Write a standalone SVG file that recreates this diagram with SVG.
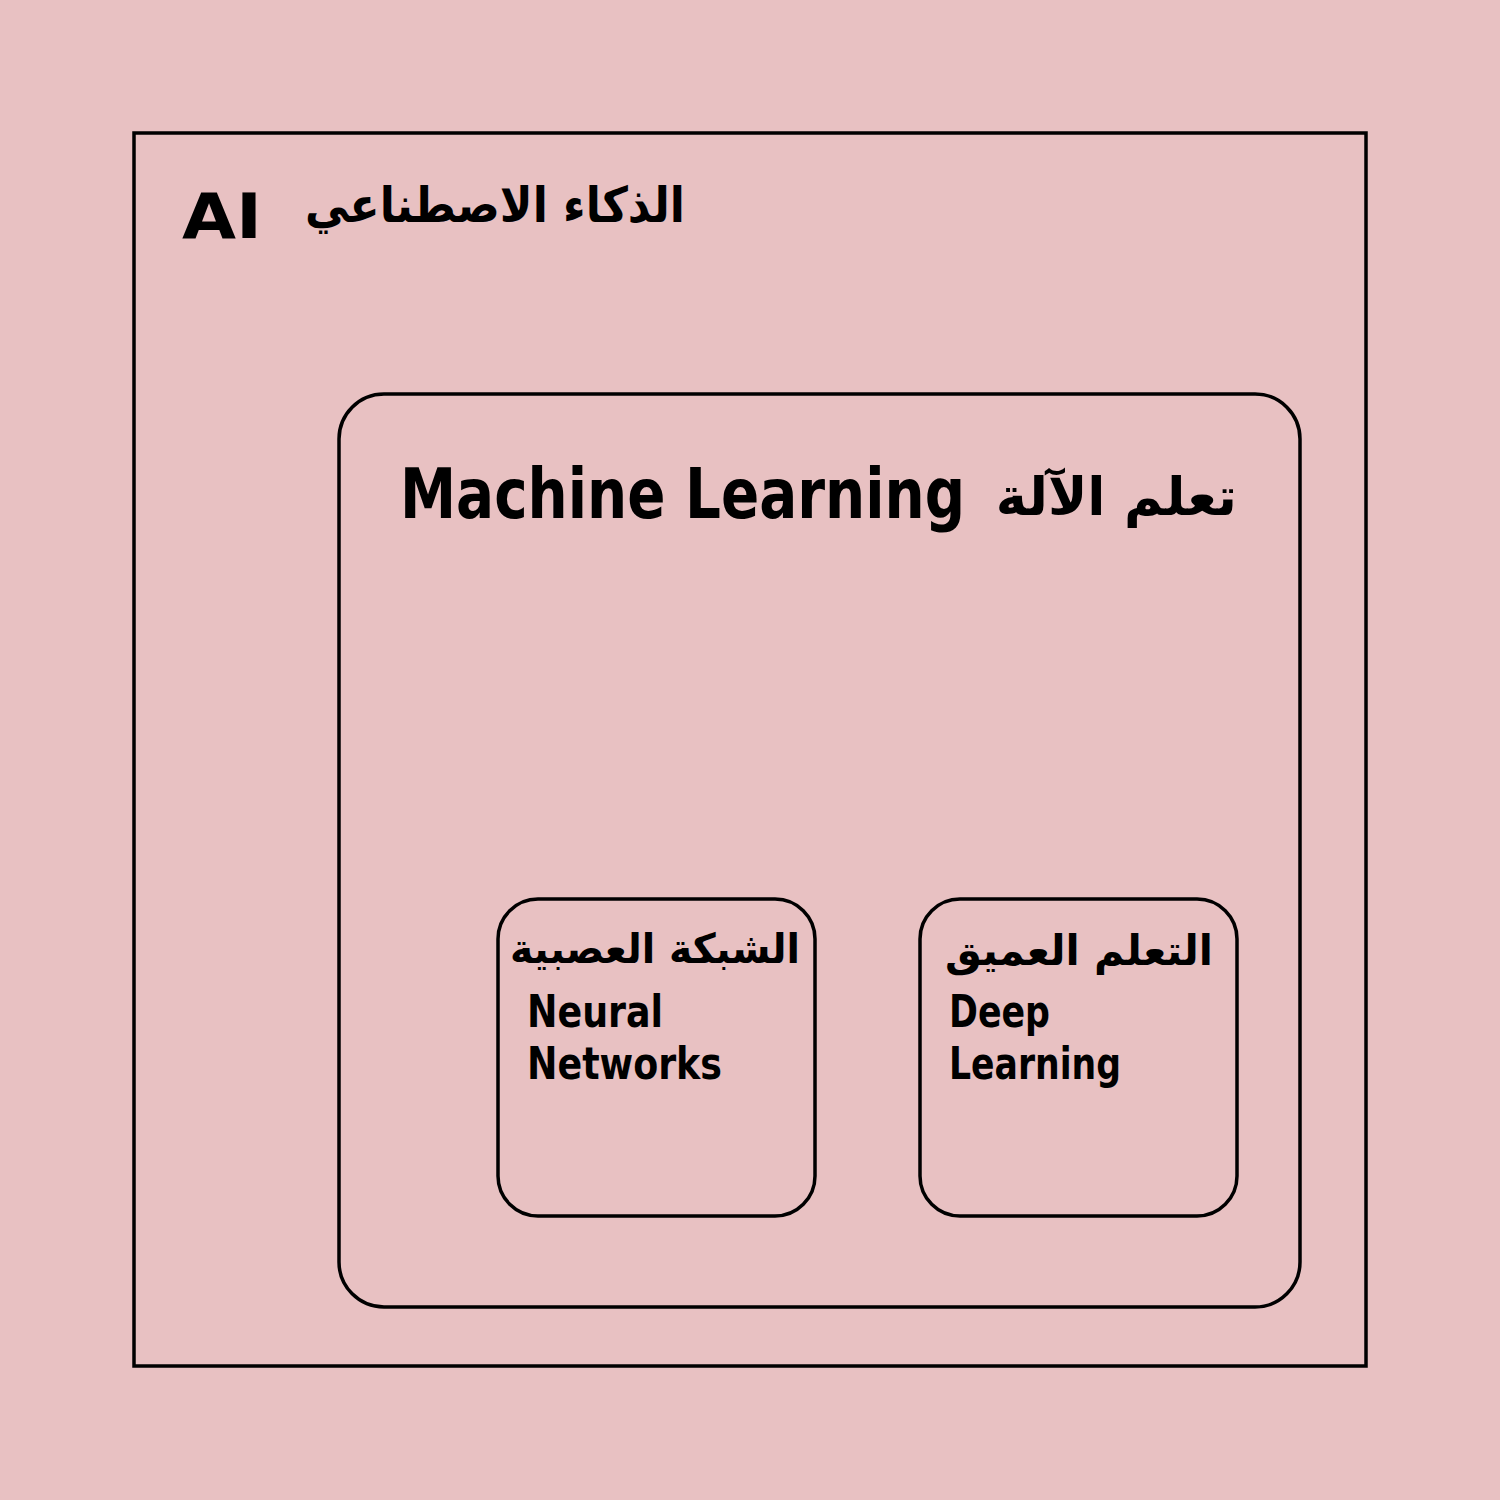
<svg xmlns="http://www.w3.org/2000/svg" width="1500" height="1500" viewBox="0 0 1500 1500">
<style>
.box{fill:none;stroke:#000;stroke-width:3.5}
.lat{font-family:"DejaVu Sans","Liberation Sans",sans-serif;font-weight:bold;fill:#000}
.ar{font-family:"DejaVu Sans","Noto Sans",sans-serif;font-weight:bold;fill:#000}
</style>
<rect x="0" y="0" width="1500" height="1500" fill="#E8C1C2"/>
<g id="ai">
<rect class="box" x="134" y="133" width="1232" height="1233"/>
<text class="lat" x="182" y="238" font-size="62" textLength="80" lengthAdjust="spacingAndGlyphs">AI</text>
<text class="ar" x="305" y="222" font-size="49" textLength="380" lengthAdjust="spacingAndGlyphs">الذكاء الاصطناعي</text>
</g>
<g id="ml">
<rect class="box" x="339" y="394" width="961" height="913" rx="45"/>
<text class="lat" x="400" y="518" font-size="70" textLength="565" lengthAdjust="spacingAndGlyphs">Machine Learning</text>
<text class="ar" x="1237" y="515" font-size="53" text-anchor="end">تعلم الآلة</text>
</g>
<g id="nn">
<rect class="box" x="498" y="899" width="317" height="317" rx="40"/>
<text class="ar" x="510" y="963" font-size="41" textLength="290" lengthAdjust="spacingAndGlyphs">الشبكة العصبية</text>
<text class="lat" x="527" y="1027" font-size="44" textLength="136" lengthAdjust="spacingAndGlyphs">Neural</text>
<text class="lat" x="527" y="1079" font-size="44" textLength="195" lengthAdjust="spacingAndGlyphs">Networks</text>
</g>
<g id="dl">
<rect class="box" x="920" y="899" width="317" height="317" rx="40"/>
<text class="ar" x="945" y="965" font-size="42" textLength="268" lengthAdjust="spacingAndGlyphs">التعلم العميق</text>
<text class="lat" x="949" y="1027" font-size="44" textLength="101" lengthAdjust="spacingAndGlyphs">Deep</text>
<text class="lat" x="949" y="1079" font-size="44" textLength="172" lengthAdjust="spacingAndGlyphs">Learning</text>
</g>
<g id="connectors"/>
</svg>
